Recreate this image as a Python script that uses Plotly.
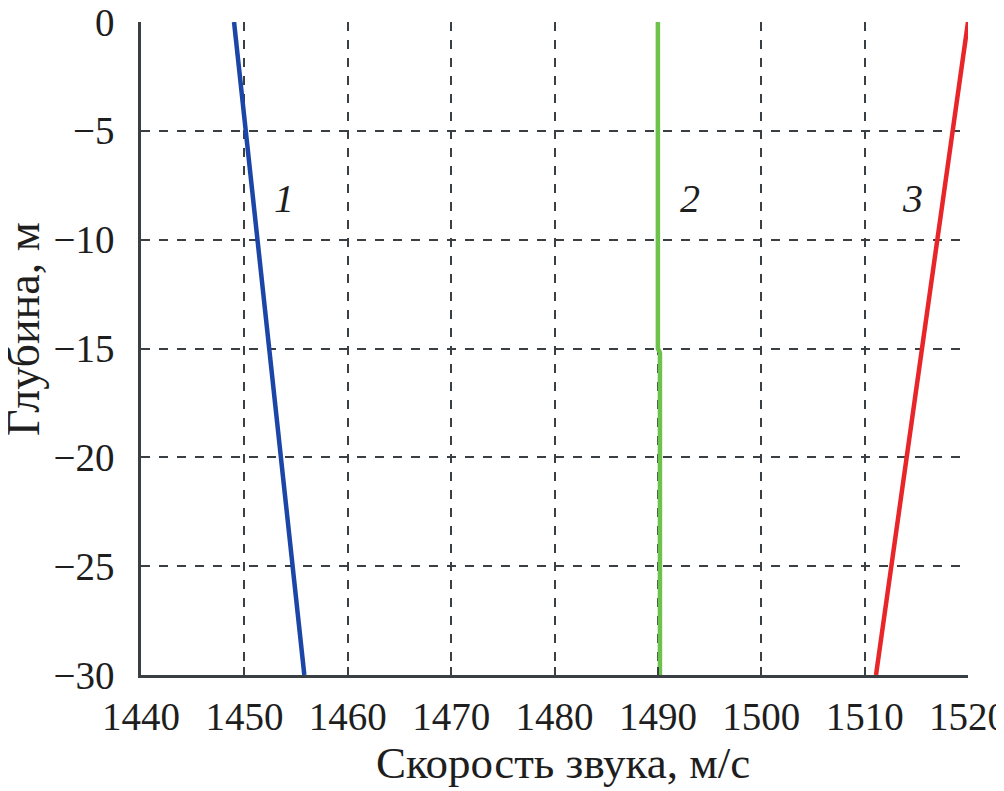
import plotly.graph_objects as go

# Data
depth_1 = [0, -30]
speed_1 = [1449.0, 1455.8]

depth_2 = [0, -15, -15.2, -30]
speed_2 = [1490.0, 1490.0, 1490.2, 1490.2]

depth_3 = [0, -30]
speed_3 = [1520.0, 1511.1]

curve_labels = ["1", "2", "3"]
label_x = [1453.8, 1493.1, 1514.6]
label_y = [-8.1, -8.1, -8.1]

x_ticks = [1440, 1450, 1460, 1470, 1480, 1490, 1500, 1510, 1520]
y_ticks = [0, -5, -10, -15, -20, -25, -30]

x_title = "Скорость звука, м/с"
y_title = "Глубина, м"

font_family = "Liberation Serif, Times New Roman, serif"
axis_col = "#3a3f44"
text_col = "#1e1e1e"

fig = go.Figure()
fig.add_trace(go.Scatter(x=speed_1, y=depth_1, mode="lines",
                         line=dict(color="#1c45a8", width=4.5), showlegend=False))
fig.add_trace(go.Scatter(x=speed_2, y=depth_2, mode="lines",
                         line=dict(color="#6cc24a", width=4.5), showlegend=False))
fig.add_trace(go.Scatter(x=speed_3, y=depth_3, mode="lines",
                         line=dict(color="#e8262a", width=4.5), showlegend=False))

for t, xx, yy in zip(curve_labels, label_x, label_y):
    fig.add_annotation(x=xx, y=yy, text="<i>" + t + "</i>", showarrow=False,
                       font=dict(family=font_family, size=40, color=text_col))

# axis titles as annotations for precise placement
fig.add_annotation(xref="paper", yref="paper", x=0.51, y=0, yshift=-88,
                   xanchor="center", yanchor="middle", showarrow=False,
                   text=x_title, font=dict(family=font_family, size=45, color=text_col))
fig.add_annotation(xref="paper", yref="paper", x=0, y=0.53, xshift=-117,
                   xanchor="center", yanchor="middle", showarrow=False, textangle=-90,
                   text=y_title, font=dict(family=font_family, size=46, color=text_col))

fig.update_xaxes(range=[1440, 1520], tickvals=x_ticks, automargin=False,
                 showline=True, linecolor=axis_col, linewidth=2.5,
                 ticks="inside", ticklen=8, tickcolor=axis_col, tickwidth=2,
                 showgrid=True, gridcolor=axis_col, gridwidth=2, griddash="dash",
                 zeroline=False, ticklabelstandoff=5, ticklabeloverflow="allow",
                 tickfont=dict(family=font_family, size=39, color=text_col))
fig.update_yaxes(range=[-30, 0], tickvals=y_ticks, automargin=False,
                 showline=True, linecolor=axis_col, linewidth=2.5,
                 ticks="inside", ticklen=8, tickcolor=axis_col, tickwidth=2,
                 showgrid=True, gridcolor=axis_col, gridwidth=2, griddash="dash",
                 zeroline=False, ticklabelstandoff=16, ticklabeloverflow="allow",
                 tickfont=dict(family=font_family, size=39, color=text_col))

fig.update_layout(width=1004, height=791,
                  margin=dict(l=133, r=44, t=14, b=124),
                  plot_bgcolor="white", paper_bgcolor="white")

fig.write_html("out.html")
